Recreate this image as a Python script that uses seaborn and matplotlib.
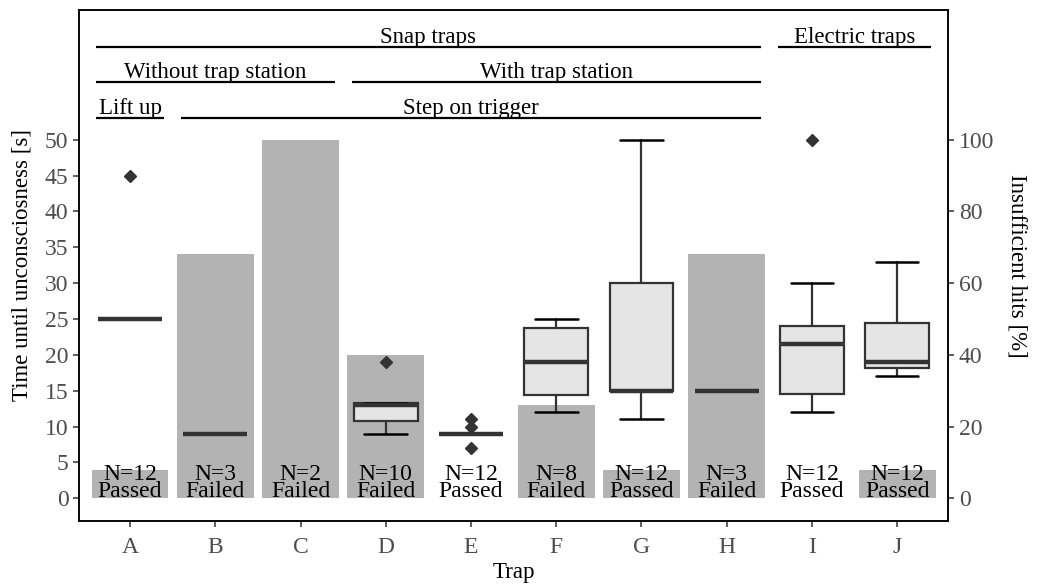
import numpy as np
import matplotlib
matplotlib.use("Agg")
import matplotlib.pyplot as plt
import seaborn as sns

# traps and the share of insufficient hits (right axis, %)
traps = ["A", "B", "C", "D", "E", "F", "G", "H", "I", "J"]
hits_pct = [8, 68, 100, 40, 0, 26, 8, 68, 0, 8]
n_tested = [12, 3, 2, 10, 12, 8, 12, 3, 12, 12]
verdict = ["Passed", "Failed", "Failed", "Failed", "Passed",
           "Failed", "Passed", "Failed", "Passed", "Passed"]

# time until unconsciousness [s], box summaries (C has none)
box_traps = ["A", "B", "D", "E", "F", "G", "H", "I", "J"]
q1 = [25, 9, 10.75, 9, 14.35, 15, 15, 14.5, 18.2]
med = [25, 9, 13, 9, 19, 15, 15, 21.5, 19]
q3 = [25, 9, 13.3, 9, 23.75, 30, 15, 24.05, 24.5]
whislo = [25, 9, 9, 9, 12, 11, 15, 12, 17]
whishi = [25, 9, 13.3, 9, 25, 50, 15, 30, 33]
outliers = [[45], [], [19], [7, 10, 11], [], [], [], [50], []]

# grouping brackets above the panel
group_names = ["Snap traps", "Electric traps", "Without trap station",
               "With trap station", "Lift up", "Step on trigger"]
group_first = ["A", "I", "A", "D", "A", "B"]
group_last = ["H", "J", "C", "H", "A", "H"]
group_row = [0, 0, 1, 1, 2, 2]

sns.set_style("ticks")
plt.rcParams["font.family"] = ["Liberation Serif", "DejaVu Serif"]
plt.rcParams["axes.edgecolor"] = "black"

fig, ax = plt.subplots(figsize=(10.39, 5.84), dpi=100)
fig.subplots_adjust(left=0.076, right=0.9127, bottom=0.108, top=0.983)
ax2 = ax.twinx()

# bars on the right axis, behind the boxes
sns.barplot(x=traps, y=hits_pct, order=traps, ax=ax2, color="#b3b3b3",
            width=0.9, linewidth=0, saturation=1)
ax.set_zorder(ax2.get_zorder() + 1)
ax.patch.set_visible(False)

pos = [traps.index(t) for t in box_traps]
stats = []
for i in range(len(box_traps)):
    stats.append(dict(q1=q1[i], med=med[i], q3=q3[i], whislo=whislo[i],
                      whishi=whishi[i], fliers=outliers[i]))
ax.bxp(stats, positions=pos, widths=0.75, capwidths=0.5, patch_artist=True,
       manage_ticks=False,
       boxprops=dict(facecolor="#e5e5e5", edgecolor="#333333", linewidth=1.6),
       medianprops=dict(color="#333333", linewidth=3.2),
       whiskerprops=dict(color="#333333", linewidth=1.6),
       capprops=dict(color="black", linewidth=1.8),
       flierprops=dict(marker="D", markerfacecolor="#333333",
                       markeredgecolor="#333333", markersize=6))

# N / verdict labels
for i, t in enumerate(traps):
    ax.text(i, -0.45, f"N={n_tested[i]}\n{verdict[i]}", ha="center", va="bottom",
            fontsize=17, linespacing=0.74, color="black")

# grouping brackets
row_y = [63, 58.05, 53.1]
for name, a, b, r in zip(group_names, group_first, group_last, group_row):
    x0 = traps.index(a) - 0.4
    x1 = traps.index(b) + 0.4
    ax.plot([x0, x1], [row_y[r], row_y[r]], color="black", lw=1.6,
            solid_capstyle="butt")
    ax.text((x0 + x1) / 2, row_y[r] + 0.55, name, ha="center", va="baseline",
            fontsize=16.5, color="black")

ax.set_xlim(-0.6, 9.6)
ax.set_ylim(-3.15, 68.1)
ax2.set_ylim(-6.3, 136.2)
ax.set_xticks(range(len(traps)), traps)
ax.set_yticks(np.arange(0, 51, 5))
ax2.set_yticks(np.arange(0, 101, 20))

ax.set_xlabel("Trap", fontsize=16.5, color="black", labelpad=3)
ax.set_ylabel("Time until unconsciosness [s]", fontsize=16.5, color="black",
              labelpad=9)
ax2.set_ylabel("Insufficient hits [%]", fontsize=16.5, color="black",
               rotation=270, labelpad=24)

for a in (ax, ax2):
    a.tick_params(length=4.5, width=1.1, color="#333333", labelcolor="#4d4d4d",
                  labelsize=17, pad=3)
    for s in a.spines.values():
        s.set_visible(True)
        s.set_linewidth(1.1)
        s.set_color("black")
ax.tick_params(axis="x", pad=7)

fig.savefig("out.png", dpi=100)
